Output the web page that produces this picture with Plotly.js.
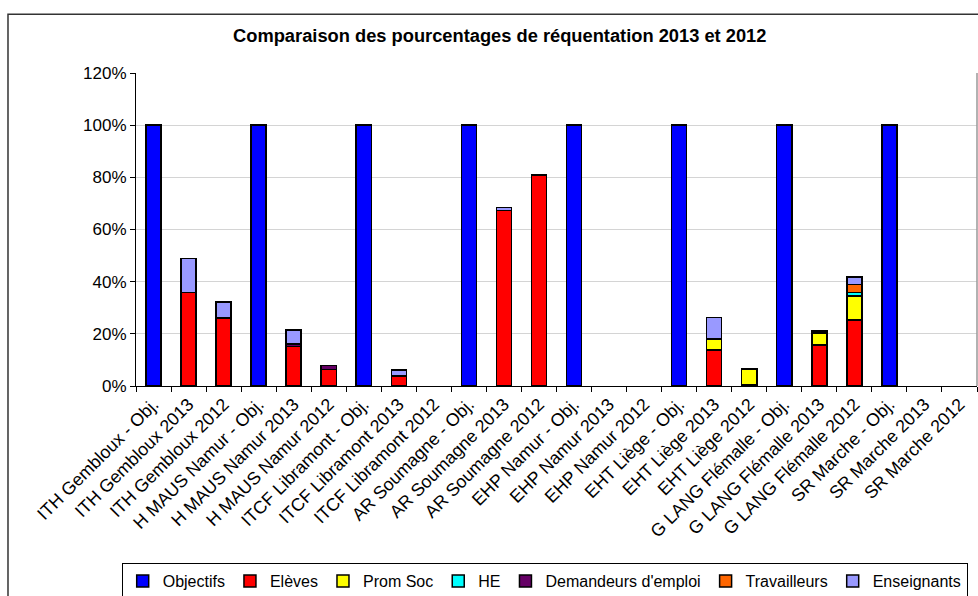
<!DOCTYPE html>
<html>
<head>
<meta charset="utf-8">
<script src="https://cdn.plot.ly/plotly-3.0.1.min.js"></script>
<style>html,body{margin:0;padding:0;background:#fff;}#chart{width:978px;height:596px;}</style>
</head>
<body>
<div id="chart"></div>
<script>
const categories = [
  "ITH Gembloux - Obj.", "ITH Gembloux 2013", "ITH Gembloux 2012",
  "H MAUS Namur - Obj.", "H MAUS Namur 2013", "H MAUS Namur 2012",
  "ITCF Libramont - Obj.", "ITCF Libramont 2013", "ITCF Libramont 2012",
  "AR Soumagne - Obj.", "AR Soumagne 2013", "AR Soumagne 2012",
  "EHP Namur - Obj.", "EHP Namur 2013", "EHP Namur 2012",
  "EHT Liège - Obj.", "EHT Liège 2013", "EHT Liège 2012",
  "G LANG Flémalle - Obj.", "G LANG Flémalle 2013", "G LANG Flémalle 2012",
  "SR Marche - Obj.", "SR Marche 2013", "SR Marche 2012"
];
const objectifs    = [1.00,null,null, 1.00,null,null, 1.00,null,null, 1.00,null,null, 1.00,null,null, 1.00,null,null, 1.00,null,null, 1.00,null,null];
const eleves       = [null,0.359,0.261, null,0.151,0.064, null,0.039,null, null,0.672,0.809, null,null,null, null,0.138,0.003, null,0.157,0.253, null,null,null];
const promSoc      = [null,null,null, null,null,null, null,null,null, null,null,null, null,null,null, null,0.042,0.062, null,0.047,0.093, null,null,null];
const he           = [null,null,null, null,null,null, null,null,null, null,null,null, null,null,null, null,null,null, null,null,0.013, null,null,null];
const demandeurs   = [null,null,null, null,0.011,0.015, null,null,null, null,null,null, null,null,null, null,null,null, null,0.006,null, null,null,null];
const travailleurs = [null,null,null, null,null,null, null,null,null, null,null,null, null,null,null, null,null,null, null,null,0.031, null,null,null];
const enseignants  = [null,0.129,0.062, null,0.052,null, null,0.022,null, null,0.013,null, null,null,null, null,0.082,null, null,null,0.027, null,null,null];

const seriesNames  = ["Objectifs","Elèves","Prom Soc","HE","Demandeurs d'emploi","Travailleurs","Enseignants"];
const seriesValues = [objectifs, eleves, promSoc, he, demandeurs, travailleurs, enseignants];
const seriesColors = ["#0000FF","#FF0000","#FFFF00","#00FFFF","#660066","#FF6600","#9999FF"];

const traces = seriesNames.map((name, i) => ({
  type: 'bar',
  name: name,
  x: categories,
  y: seriesValues[i],
  marker: {color: seriesColors[i], line: {color: '#000', width: 1.5}},
  hoverinfo: 'x+y+name'
}));

const layout = {
  width: 978, height: 596,
  margin: {l: 136, r: 1, t: 73, b: 210, autoexpand: false},
  paper_bgcolor: '#fff', plot_bgcolor: '#fff',
  font: {family: '"Liberation Sans", Arial, sans-serif', size: 17, color: '#000'},
  title: {text: '<b>Comparaison des pourcentages de réquentation 2013 et 2012</b>',
          font: {size: 18.3, color: '#000'}, x: 0.511, xanchor: 'center', y: 0.94, yanchor: 'middle'},
  barmode: 'stack',
  bargap: 0.57,
  showlegend: true,
  legend: {orientation: 'h', x: -0.017, xanchor: 'left', y: -0.5655, yanchor: 'top',
           bordercolor: '#000', borderwidth: 1, font: {size: 16}, traceorder: 'normal',
           itemwidth: 30},
  xaxis: {
    type: 'category', tickangle: -45, tickson: 'boundaries', automargin: false,
    ticks: 'outside', ticklen: 5, tickcolor: '#000',
    showline: true, linecolor: '#000', linewidth: 1,
    showgrid: false, tickfont: {size: 17.8}, fixedrange: true
  },
  yaxis: {
    range: [0, 1.2], dtick: 0.2, tickformat: '.0%', automargin: false,
    ticks: 'outside', ticklen: 5, tickcolor: '#000',
    showline: true, linecolor: '#000', linewidth: 1,
    showgrid: true, gridcolor: '#d4d4d4', gridwidth: 1,
    zeroline: false, tickfont: {size: 17}, fixedrange: true
  },
  shapes: [
    {type: 'rect', xref: 'paper', yref: 'paper', x0: -0.1522, x1: 1.02, y0: -0.7, y1: 1.188,
     line: {color: '#333', width: 1.5}, fillcolor: 'rgba(0,0,0,0)', layer: 'above'},
    {type: 'line', xref: 'paper', yref: 'paper', x0: 1, x1: 1, y0: 0, y1: 1,
     line: {color: '#999', width: 1.5}}
  ]
};

Plotly.newPlot('chart', traces, layout, {displayModeBar: false, staticPlot: true});
</script>
</body>
</html>
